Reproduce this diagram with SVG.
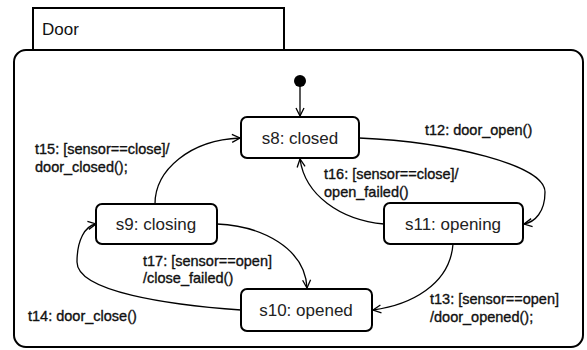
<svg xmlns="http://www.w3.org/2000/svg" width="587" height="350" viewBox="0 0 587 350">
<defs>
<marker id="arr" viewBox="0 0 10 10" refX="9" refY="5" markerWidth="10" markerHeight="10" markerUnits="userSpaceOnUse" orient="auto">
<path d="M1,1 L9,5 L1,9" fill="none" stroke="#000" stroke-width="1.3"/>
</marker>
<style>
.node rect{fill:#fff;stroke:#000;stroke-width:2}
.node text{font-family:"Liberation Sans",Arial,sans-serif;font-size:17px;fill:#222;text-anchor:middle}
.lbl{font-family:"Liberation Sans",Arial,sans-serif;font-size:14.5px;fill:#111;stroke:#111;stroke-width:0.35}
.edge{fill:none;stroke:#000;stroke-width:1.3;marker-end:url(#arr)}
</style>
</defs>
<rect width="587" height="350" fill="#fff"/>
<g id="frame">
<rect x="33" y="8" width="251" height="43" fill="#fff" stroke="#000" stroke-width="2"/>
<text x="42" y="35" font-family="Liberation Sans,Arial,sans-serif" font-size="17" fill="#111">Door</text>
<rect x="14" y="50" width="569" height="297" rx="12" fill="#fff" stroke="#000" stroke-width="2"/>
</g>
<g id="initial">
<circle cx="300" cy="81" r="6" fill="#000"/>
</g>
<g id="connectors">
<path class="edge" d="M300,81 L300,116"/>
<path class="edge" d="M155,204 C155,170 190,140 240,138"/>
<path class="edge" d="M359,138 C450,142 545,165 545,192 C545,212 535,222 524,224"/>
<path class="edge" d="M384,224 C340,220 305,195 300,159"/>
<path class="edge" d="M217,224 C262,226 305,248 307,288"/>
<path class="edge" d="M241,310 C170,305 77,292 77,262 C77,240 85,226 96,224"/>
<path class="edge" d="M453,244 C450,285 410,305 373,310"/>
</g>
<g id="s8" class="node"><rect x="241" y="117" width="118" height="41" rx="6"/><text x="300" y="144">s8: closed</text></g>
<g id="s9" class="node"><rect x="96" y="204" width="121" height="40" rx="6"/><text x="156" y="230">s9: closing</text></g>
<g id="s11" class="node"><rect x="384" y="203" width="139" height="41" rx="6"/><text x="453" y="230">s11: opening</text></g>
<g id="s10" class="node"><rect x="241" y="289" width="131" height="42" rx="6"/><text x="306" y="316">s10: opened</text></g>
<g id="labels">
<text class="lbl" x="35" y="154">t15: [sensor==close]/</text>
<text class="lbl" x="35" y="172">door_closed();</text>
<text class="lbl" x="425" y="135">t12: door_open()</text>
<text class="lbl" x="324" y="179">t16: [sensor==close]/</text>
<text class="lbl" x="324" y="197">open_failed()</text>
<text class="lbl" x="143" y="266">t17: [sensor==open]</text>
<text class="lbl" x="143" y="283">/close_failed()</text>
<text class="lbl" x="28" y="321">t14: door_close()</text>
<text class="lbl" x="430" y="304">t13: [sensor==open]</text>
<text class="lbl" x="430" y="322">/door_opened();</text>
</g>
</svg>
